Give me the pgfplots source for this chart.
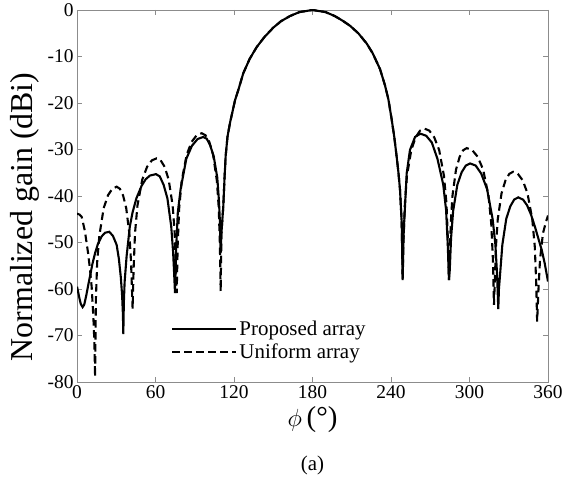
\documentclass[border=0pt]{standalone}
\usepackage{fontspec}
\setmainfont{Liberation Serif}
\usepackage{pgfplots}
\pgfplotsset{compat=1.18}
\begin{document}
\begin{tikzpicture}
\begin{axis}[
  scale only axis, width=471bp, height=372bp,
  xmin=0, xmax=360, ymin=-80, ymax=0,
  xtick={0,60,...,360}, ytick={-80,-70,...,0},
  tick align=inside, xtick pos=both, ytick pos=both,
  major tick length=5bp,
  axis line style={black!45, line width=0.8bp},
  every tick/.style={black!45, line width=0.8bp},
  tick label style={font=\fontsize{19.5}{20}\selectfont},
  /pgf/number format/assume math mode=true,
  legend style={at={(axis description cs:0.2,0.17)}, anchor=north west, draw=none, fill=none,
    font=\fontsize{21}{23}\selectfont, row sep=3bp, inner sep=0pt},
  legend cell align=left,
  legend image code/.code={\path (0bp,0bp) -- (64bp,0bp); \draw[#1] (0bp,0bp) -- (59bp,0bp);},
]
\addplot[black, line width=2.1bp] coordinates {
(0,-59.5) (1,-60.8) (2,-62.2) (3,-63.3) (4.3,-63.9) (5.5,-63.4) (7,-61.5) (8.5,-59.3)
(9.9,-57.3) (11.8,-54.6) (13.8,-52.3) (16,-50.3) (18.8,-48.7) (21.5,-47.9) (24.7,-47.7)
(27.5,-48.6) (30.3,-50.5) (32,-53.5) (33.5,-57.5) (34.5,-61.5) (35.1,-65.5) (35.4,-69.7)
(35.8,-63) (36.4,-58.5) (37.9,-53) (40.4,-46.5) (42.5,-43.5) (45.4,-40.5) (49.4,-37.8)
(52.5,-36.4) (55.8,-35.6) (60.4,-35.3) (63.3,-35.8) (66.2,-37.6) (69.1,-40.5) (72.0,-46.5)
(73.45,-52) (74.3,-57) (74.9,-60.9) (75.76,-51.4) (77.06,-43.5) (79.22,-38.5) (83.54,-32.0)
(87.86,-29.2) (92.18,-27.75) (96.5,-27.3) (99.2,-27.7) (101.8,-29.1) (104.5,-31.5) (107.2,-36)
(108.5,-41) (109.3,-46) (109.8,-52.3) (110.4,-48) (111,-45.5) (111.8,-42.3) (112.7,-36.5)
(113.6,-31.5) (115,-27.3) (117,-24.2) (120.8,-19.4) (123.3,-17.2) (127.1,-13.6) (132,-10.5)
(137.3,-8.0) (143,-5.9) (150,-3.8) (156,-2.4) (162.8,-1.3) (170,-0.45) (180,0) (190,-0.45)
(197,-1.3) (203,-2.3) (208.7,-3.4) (215,-5.0) (221.4,-7.2) (226,-9.3) (231.6,-12.7)
(235.4,-16.2) (238,-19.2) (240.5,-23.5) (242.5,-27.3) (244.3,-31.5) (245.7,-35) (246.9,-38.7)
(248.2,-45.9) (248.9,-58.1) (249.4,-50) (250,-46) (250.7,-42.3) (252,-35.1) (254.5,-30.1)
(258.4,-27.3) (262.5,-26.6) (266.9,-27.05) (271.2,-28.5) (275.5,-32.0) (279.9,-37.5)
(282.1,-43) (283.4,-50.6) (284.3,-58.1) (284.9,-56) (285.9,-49.1) (287.5,-43.2) (290.7,-37.6)
(294.0,-34.9) (297.2,-33.45) (300.4,-33) (304.7,-33.45) (309.0,-35.2) (313.4,-38.5)
(317.7,-45) (319.8,-50.5) (321.1,-57) (322,-64.3) (322.5,-60) (323.5,-56.4) (325.1,-50.5)
(328.1,-44.9) (331.2,-42.2) (334.2,-40.75) (337.3,-40.3) (341,-40.8) (344,-42) (347,-44)
(350,-46.6) (353,-49.5) (355.2,-51.6) (357.5,-54.5) (360,-58.4)
};
\addlegendentry{Proposed array}
\addplot[black, line width=2.1bp, dash pattern=on 7.5bp off 4.5bp] coordinates {
(0,-43.8) (2,-44.0) (3.6,-44.5) (6,-47.5) (8.6,-52.5) (10,-56) (11.2,-59.5) (12.5,-66)
(13.3,-71.5) (13.8,-78.9) (14.46,-62) (15.45,-54.1) (17.1,-48.5) (20.4,-42.6) (23.7,-39.84)
(27.0,-38.44) (30.3,-38.0) (32.74,-38.44) (35.18,-39.84) (37.62,-42.6) (40.06,-48.2)
(41.28,-54.1) (42.01,-60) (42.5,-64.2) (43.24,-55.9) (44.34,-48.0) (46.18,-42.1)
(49.86,-36.5) (53.54,-33.74) (57.22,-32.34) (60.9,-31.9) (63.96,-32.34) (67.02,-33.74)
(70.08,-36.5) (73.14,-42.1) (74.67,-48.0) (75.59,-55.9) (76.2,-60.9) (76.96,-50.5)
(78.11,-42.6) (80.02,-36.7) (83.84,-31.1) (87.66,-28.34) (91.48,-26.94) (95.3,-26.5)
(98.2,-26.94) (101.1,-28.34) (104.0,-31.1) (106.9,-36.7) (108.35,-42.6) (109.22,-50.5)
(109.8,-60.5) (110.4,-48) (111,-45.5) (111.8,-42.3) (112.7,-36.5)
(113.6,-31.5) (115,-27.3) (117,-24.2) (120.8,-19.4) (123.3,-17.2) (127.1,-13.6) (132,-10.5)
(137.3,-8.0) (143,-5.9) (150,-3.8) (156,-2.4) (162.8,-1.3) (170,-0.45) (180,0) (190,-0.45)
(197,-1.3) (203,-2.3) (208.7,-3.4) (215,-5.0) (221.4,-7.2) (226,-9.3) (231.6,-12.7)
(235.4,-16.2) (238,-19.2) (240.5,-23.5) (242.5,-27.3) (244.3,-31.5) (245.7,-35) (246.9,-38.7)
(248.2,-45.9) (248.9,-58.1) (249.6,-49.5) (250.6,-41.6) (252.2,-35.7) (255.5,-30.1)
(258.9,-27.35) (262.2,-25.95) (265.5,-25.5) (269.3,-25.95) (273.0,-27.35) (276.8,-30.1)
(280.5,-35.7) (282.4,-41.6) (283.5,-49.5) (284.3,-58.1) (284.8,-53.7) (285.7,-45.8)
(287.0,-39.9) (289.7,-34.3) (292.5,-31.55) (295.2,-30.15) (297.9,-29.7) (302.1,-30.15)
(306.2,-31.55) (310.4,-34.3) (314.5,-39.9) (316.6,-45.8) (317.9,-53.7) (318.7,-63.4)
(319.3,-58.8) (320.2,-50.9) (321.6,-45.0) (324.5,-39.4) (327.5,-36.65) (330.4,-35.25)
(333.3,-34.8) (337.0,-35.25) (340.7,-36.65) (344.3,-39.4) (348.0,-45.0) (349.9,-50.9)
(351.0,-58.8) (351.7,-67) (352.8,-59.6) (353.9,-53.7) (356.1,-48.1) (358.2,-45.8) (360,-44.2)
};
\addlegendentry{Uniform array}
\end{axis}
\node[rotate=90, font=\fontsize{32}{33}\selectfont, inner sep=0pt] at ([xshift=-52bp, yshift=-21bp]current axis.west) {Normalized gain (dBi)};
\node[font=\fontsize{29}{30}\selectfont, inner sep=0pt] at ([yshift=-38bp]current axis.south) {$\phi$\,(°)};
\node[font=\fontsize{21}{22}\selectfont, inner sep=0pt] at ([yshift=-83bp]current axis.south) {(a)};
\pgfresetboundingbox
\path ([shift={(-77bp,-106bp)}]current axis.south west) rectangle ([shift={(27bp,10bp)}]current axis.north east);
\end{tikzpicture}
\end{document}
